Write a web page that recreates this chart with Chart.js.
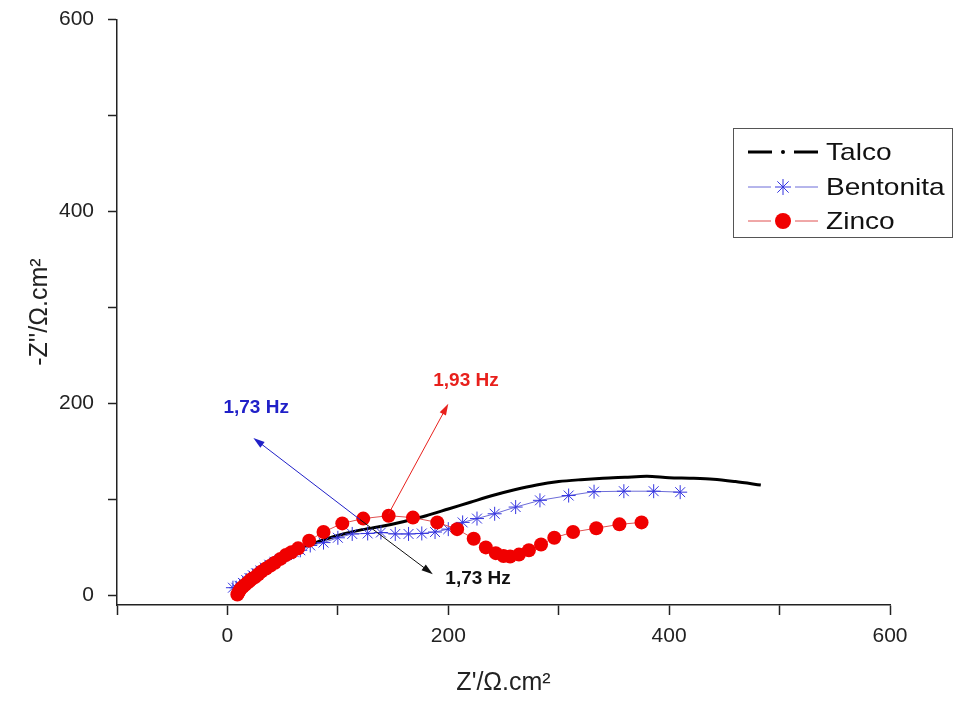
<!DOCTYPE html>
<html>
<head>
<meta charset="utf-8">
<script src="https://cdn.jsdelivr.net/npm/chart.js@4.4.1/dist/chart.umd.min.js"></script>
<style>
  html, body { margin: 0; padding: 0; background: #fff; }
  #wrap { width: 956px; height: 701px; }
</style>
</head>
<body>
<div id="wrap"><canvas id="chart" width="956" height="701"></canvas></div>
<script>
// Nyquist data, Z' (x) and -Z'' (y) in ohm.cm2
const talcoX = [10, 12, 15, 20, 28, 38, 50, 62, 75, 90, 105, 120, 140, 160, 180, 200, 220, 240, 260, 280, 300, 320, 340, 360, 380, 400, 420, 440, 460, 483];
const talcoY = [2, 6, 10, 16, 24, 33, 42, 48, 53, 59, 64, 68, 72, 77, 83, 90, 97, 104, 110, 115, 118.5, 120.5, 122, 123, 124, 122.5, 122, 121, 118.5, 115];

const bentX = [5, 8, 11, 14, 17, 20, 23, 26, 30, 34, 38, 43, 48, 54, 60, 66, 75, 87, 100, 113, 127, 139, 152, 164, 176, 188, 200, 213, 226, 242, 261, 283, 309, 332, 359, 386, 410];
const bentY = [8, 8, 10, 13, 16, 18, 21, 23, 26, 29, 32, 35, 38, 42, 45, 47, 52, 55, 60, 64, 64.5, 65.5, 64, 64, 64.5, 66, 69, 76, 80, 85, 92, 99, 104, 108, 108.5, 108.5, 107.5];

const zincX = [9, 10, 11, 12, 14, 16, 18, 20, 22, 25, 28, 31, 35, 39, 43, 48, 53, 58, 64, 74, 87, 104, 123, 146, 168, 190, 208, 223, 234, 243, 250, 256, 264, 273, 284, 296, 313, 334, 355, 375];
const zincY = [1, 3, 5, 7, 9, 11, 13, 15, 17, 19, 22, 25, 28, 31, 34, 38, 42, 45, 49, 57, 66, 75, 80, 83, 81, 76, 69, 59, 50, 44, 41, 40.5, 42.5, 47, 53, 60, 66, 70, 74, 76];

const seriesNames = ['Talco', 'Bentonita', 'Zinco'];

const xTickValues = [-100, 0, 100, 200, 300, 400, 500, 600];
const xTickLabels = [0, 200, 400, 600];
const yTickValues = [0, 100, 200, 300, 400, 500, 600];
const yTickLabels = [0, 200, 400, 600];

// frequency markers: arrow start, arrow end, label point (data units)
const markerLabels = ['1,73 Hz', '1,73 Hz', '1,93 Hz'];
const markerFrom = [[120, 79], [120, 79], [146, 85]];
const markerTo = [[23.5, 164], [186, 22], [200, 199.5]];
const markerText = [[26, 195], [227, 17], [216, 223]];
const markerColors = ['#2020c8', '#111111', '#e8201c'];

const FONT = "'Liberation Sans', Arial, Helvetica, sans-serif";

function toPoints(xs, ys) {
    return xs.map((x, i) => ({ x: x, y: ys[i] }));
}

function drawArrow(ctx, x1, y1, x2, y2, color) {
    const ang = Math.atan2(y2 - y1, x2 - x1);
    const head = 12;
    ctx.save();
    ctx.strokeStyle = color;
    ctx.fillStyle = color;
    ctx.lineWidth = 1;
    ctx.beginPath();
    ctx.moveTo(x1, y1);
    ctx.lineTo(x2 - Math.cos(ang) * 6, y2 - Math.sin(ang) * 6);
    ctx.stroke();
    ctx.beginPath();
    ctx.moveTo(x2, y2);
    ctx.lineTo(x2 - head * Math.cos(ang - 0.3), y2 - head * Math.sin(ang - 0.3));
    ctx.lineTo(x2 - head * Math.cos(ang + 0.3), y2 - head * Math.sin(ang + 0.3));
    ctx.closePath();
    ctx.fill();
    ctx.restore();
}

const markerPlugin = {
    id: 'markers',
    afterDatasetsDraw(chart) {
        const { ctx, scales: { x, y } } = chart;
        for (let i = 0; i < markerLabels.length; i++) {
            drawArrow(ctx,
                x.getPixelForValue(markerFrom[i][0]), y.getPixelForValue(markerFrom[i][1]),
                x.getPixelForValue(markerTo[i][0]), y.getPixelForValue(markerTo[i][1]),
                markerColors[i]);
            ctx.save();
            ctx.fillStyle = markerColors[i];
            ctx.font = 'bold 19px ' + FONT;
            ctx.textAlign = 'center';
            ctx.textBaseline = 'middle';
            ctx.fillText(markerLabels[i], x.getPixelForValue(markerText[i][0]), y.getPixelForValue(markerText[i][1]));
            ctx.restore();
        }
    }
};

const legendPlugin = {
    id: 'boxLegend',
    afterDraw(chart) {
        const ctx = chart.ctx;
        const left = 733, top = 128, w = 219, h = 109;
        ctx.save();
        ctx.strokeStyle = '#555';
        ctx.lineWidth = 1;
        ctx.strokeRect(left + 0.5, top + 0.5, w, h);
        const rows = [152, 187, 221];
        const x0 = 748, x1 = 818, xm = 783;
        chart.data.datasets.forEach((ds, i) => {
            const yy = rows[i];
            if (i === 0) {
                ctx.strokeStyle = '#000';
                ctx.lineWidth = 3;
                ctx.beginPath();
                ctx.moveTo(x0, yy); ctx.lineTo(x0 + 24, yy);
                ctx.moveTo(x1 - 24, yy); ctx.lineTo(x1, yy);
                ctx.stroke();
                ctx.fillStyle = '#000';
                ctx.beginPath(); ctx.arc(xm, yy, 2, 0, Math.PI * 2); ctx.fill();
            } else {
                ctx.strokeStyle = ds.borderColor;
                ctx.lineWidth = 1;
                ctx.beginPath();
                ctx.moveTo(x0, yy); ctx.lineTo(xm - 12, yy);
                ctx.moveTo(xm + 12, yy); ctx.lineTo(x1, yy);
                ctx.stroke();
                if (ds.pointStyle === 'circle') {
                    ctx.fillStyle = ds.pointBackgroundColor;
                    ctx.beginPath(); ctx.arc(xm, yy, 8, 0, Math.PI * 2); ctx.fill();
                } else {
                    ctx.strokeStyle = ds.pointBorderColor;
                    ctx.lineWidth = 1;
                    Chart.helpers.drawPoint(ctx, { pointStyle: 'star', radius: 8, borderWidth: 1, rotation: 0 }, xm, yy);
                }
            }
            // legend text is slightly wide in the original
            ctx.save();
            ctx.font = '24px ' + FONT;
            ctx.textBaseline = 'middle';
            ctx.fillStyle = '#111';
            ctx.translate(826, yy + 1);
            ctx.scale(1.17, 1);
            ctx.fillText(ds.label, 0, 0);
            ctx.restore();
        });
        ctx.restore();
    }
};

const axisColor = '#222';

new Chart(document.getElementById('chart'), {
    type: 'scatter',
    data: {
        datasets: [
            {
                label: seriesNames[0],
                data: toPoints(talcoX, talcoY),
                showLine: true,
                borderColor: '#000',
                borderWidth: 3,
                pointRadius: 0,
                tension: 0.3,
                order: 3
            },
            {
                label: seriesNames[1],
                data: toPoints(bentX, bentY),
                showLine: true,
                borderColor: '#6c6cd8',
                borderWidth: 1,
                pointStyle: 'star',
                pointRadius: 7,
                pointBorderColor: '#3535e0',
                pointBackgroundColor: '#3535e0',
                pointBorderWidth: 1,
                order: 2
            },
            {
                label: seriesNames[2],
                data: toPoints(zincX, zincY),
                showLine: true,
                borderColor: '#e05050',
                borderWidth: 1,
                pointStyle: 'circle',
                pointRadius: 7,
                pointBorderWidth: 0,
                pointBackgroundColor: '#f00000',
                pointBorderColor: '#f00000',
                order: 1
            }
        ]
    },
    options: {
        responsive: false,
        animation: false,
        devicePixelRatio: 1,
        layout: { padding: { top: 0, right: 66, left: 0, bottom: 0 } },
        plugins: {
            legend: { display: false },
            tooltip: { enabled: false }
        },
        scales: {
            x: {
                type: 'linear',
                min: -100,
                max: 600,
                afterFit: s => { s.height = 96; },
                afterBuildTicks: s => { s.ticks = xTickValues.map(v => ({ value: v })); },
                ticks: {
                    autoSkip: false,
                    maxRotation: 0,
                    padding: 9,
                    color: axisColor,
                    font: { family: FONT, size: 21 },
                    callback: v => xTickLabels.includes(v) ? String(v) : ''
                },
                grid: { drawOnChartArea: false, tickLength: 10, tickColor: axisColor, tickWidth: 1.5 },
                border: { color: axisColor, width: 1.5 },
                title: {
                    display: true,
                    text: "Z'/Ω.cm²",
                    color: axisColor,
                    font: { family: FONT, size: 25 },
                    padding: { top: 0, bottom: 3 }
                }
            },
            y: {
                type: 'linear',
                min: -10,
                max: 600,
                afterFit: s => { s.width = 117; },
                afterBuildTicks: s => { s.ticks = yTickValues.map(v => ({ value: v })); },
                ticks: {
                    autoSkip: false,
                    padding: 14,
                    color: axisColor,
                    font: { family: FONT, size: 21, lineHeight: 0.5 },
                    callback: v => yTickLabels.includes(v) ? String(v) : ''
                },
                grid: { drawOnChartArea: false, tickLength: 9, tickColor: axisColor, tickWidth: 1.5 },
                border: { color: axisColor, width: 1.5 },
                title: {
                    display: true,
                    text: "-Z''/Ω.cm²",
                    color: axisColor,
                    font: { family: FONT, size: 25 },
                    padding: { top: 25, bottom: 0 }
                }
            }
        }
    },
    plugins: [markerPlugin, legendPlugin]
});
</script>
</body>
</html>
